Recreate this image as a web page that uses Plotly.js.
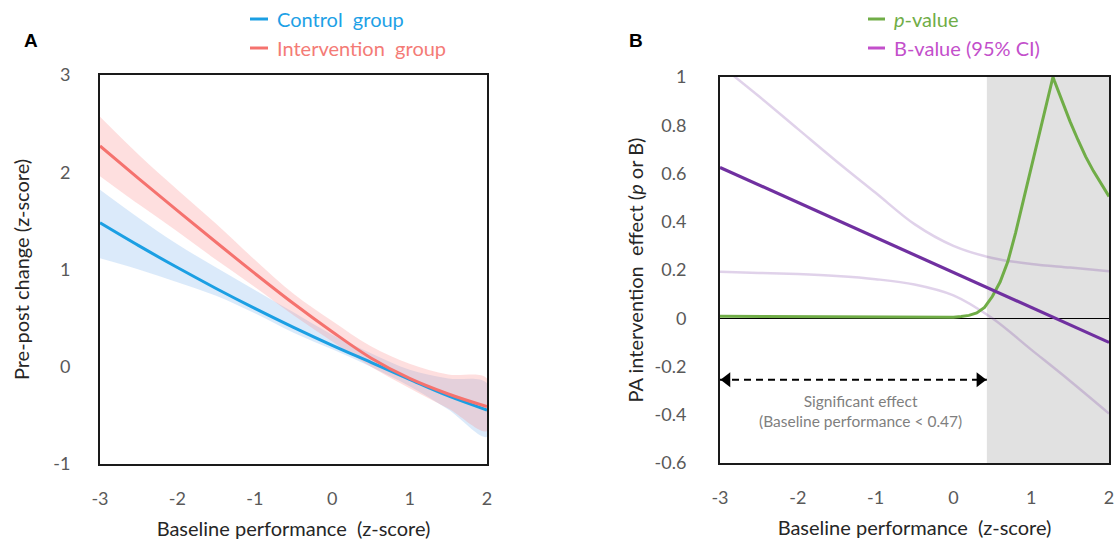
<!DOCTYPE html>
<html>
<head>
<meta charset="utf-8">
<script src="https://cdn.plot.ly/plotly-3.0.1.min.js"></script>
<style>html,body{margin:0;padding:0;background:#fff;}#chart{width:1115px;height:547px;}</style>
</head>
<body>
<div id="chart"></div>
<script>
// ---------- Panel A data ----------
const xGrid = [-3, -2.5, -2, -1.5, -1, -0.5, 0, 0.5, 1, 1.5, 2];
const controlMean  = [1.48, 1.245, 1.02, 0.805, 0.60, 0.405, 0.22, 0.045, -0.13, -0.30, -0.445];
const controlLower = [1.115, 1.00, 0.87, 0.73, 0.55, 0.35, 0.18, 0.00, -0.20, -0.44, -0.72];
const controlUpper = [1.82, 1.53, 1.26, 1.02, 0.79, 0.56, 0.33, 0.14, -0.03, -0.12, -0.17];
const interventionMean  = [2.27, 1.935, 1.605, 1.28, 0.96, 0.65, 0.36, 0.09, -0.12, -0.28, -0.41];
const interventionLower = [1.96, 1.67, 1.39, 1.10, 0.82, 0.53, 0.26, 0.00, -0.22, -0.43, -0.66];
const interventionUpper = [2.57, 2.18, 1.82, 1.47, 1.10, 0.75, 0.47, 0.21, 0.03, -0.08, -0.12];

// ---------- Panel B data ----------
const bX = [-3, -2, -1, 0, 1, 2];
const bValue = [0.625, 0.48, 0.335, 0.19, 0.045, -0.10];
const ciX = [-3, -2.5, -2, -1.5, -1, -0.5, 0, 0.5, 1, 1.5, 2];
const ciUpper = [1.05, 0.92, 0.785, 0.65, 0.52, 0.39, 0.30, 0.25, 0.225, 0.21, 0.195];
const ciLower = [0.193, 0.188, 0.183, 0.175, 0.162, 0.14, 0.095, 0.0, -0.13, -0.26, -0.395];
const pX   = [-3, -2, -1, -0.5, 0, 0.1, 0.2, 0.3, 0.4, 0.5, 0.6, 0.7, 0.8, 0.9, 1.0, 1.1, 1.2, 1.28, 1.3, 1.4, 1.5, 1.6, 1.7, 1.8, 1.9, 2.0];
const pVal = [0.008, 0.006, 0.004, 0.003, 0.004, 0.007, 0.012, 0.022, 0.045, 0.09, 0.15, 0.235, 0.355, 0.49, 0.625, 0.76, 0.89, 1.0, 0.982, 0.895, 0.815, 0.74, 0.67, 0.61, 0.555, 0.505];
const sigThreshold = 0.43;      // start of non-significant (shaded) region
const arrowY = -0.255;
const sigLabel = 'Significant effect<br>(Baseline performance &lt; 0.47)';

// ---------- ticks ----------
const xTickVals = [-3, -2, -1, 0, 1, 2];
const xTickText = ['-3', '-2', '-1', '0', '1', '2'];
const yATickVals = [-1, 0, 1, 2, 3];
const yATickText = ['-1', '0', '1', '2', '3'];
const yBTickVals = [-0.6, -0.4, -0.2, 0, 0.2, 0.4, 0.6, 0.8, 1];
const yBTickText = ['-0.6', '-0.4', '-0.2', '0', '0.2', '0.4', '0.6', '0.8', '1'];

// ---------- styles ----------
const W = 1115, H = 547;
const FONT = 'Lato, "Open Sans", sans-serif';
const blue = '#1B9FE3', red = '#F5726E';
const green = '#70AD47', purple = '#7030A0';
const tickColor = '#595959', titleColor = '#262626';

function band(x, lo, hi) {
  return { x: x.concat(x.slice().reverse()), y: lo.concat(hi.slice().reverse()) };
}
const cb = band(xGrid, controlLower, controlUpper);
const ib = band(xGrid, interventionLower, interventionUpper);

// pixel geometry of the plot areas
const A = {l: 100, r: 487, t: 75, b: 464};
const B = {l: 720, r: 1109, t: 77, b: 463};
const pxPerUnitB = (B.r - B.l) / (xTickVals[xTickVals.length-1] - xTickVals[0]);
const tipOffset = 7 / pxPerUnitB;

const traces = [
  {x: cb.x, y: cb.y, fill: 'toself', fillcolor: 'rgba(110,170,235,0.25)', line: {width: 0, shape: 'spline'}, mode: 'lines', hoverinfo: 'skip', showlegend: false, xaxis: 'x', yaxis: 'y'},
  {x: ib.x, y: ib.y, fill: 'toself', fillcolor: 'rgba(250,140,140,0.28)', line: {width: 0, shape: 'spline'}, mode: 'lines', hoverinfo: 'skip', showlegend: false, xaxis: 'x', yaxis: 'y'},
  {x: xGrid, y: controlMean, mode: 'lines', name: 'Control group', line: {color: blue, width: 3, shape: 'spline'}, showlegend: false, xaxis: 'x', yaxis: 'y'},
  {x: xGrid, y: interventionMean, mode: 'lines', name: 'Intervention group', line: {color: red, width: 3, shape: 'spline'}, showlegend: false, xaxis: 'x', yaxis: 'y'},

  {x: ciX, y: ciUpper, mode: 'lines', name: 'B upper 95% CI', line: {color: 'rgba(112,48,160,0.22)', width: 2.5, shape: 'spline'}, showlegend: false, xaxis: 'x2', yaxis: 'y2'},
  {x: ciX, y: ciLower, mode: 'lines', name: 'B lower 95% CI', line: {color: 'rgba(112,48,160,0.22)', width: 2.5, shape: 'spline'}, showlegend: false, xaxis: 'x2', yaxis: 'y2'},
  {x: pX, y: pVal, mode: 'lines', name: 'p-value', line: {color: green, width: 3}, showlegend: false, xaxis: 'x2', yaxis: 'y2'},
  {x: bX, y: bValue, mode: 'lines', name: 'B-value', line: {color: purple, width: 3.2}, showlegend: false, xaxis: 'x2', yaxis: 'y2'},
  {x: [xTickVals[0], sigThreshold], y: [arrowY, arrowY], mode: 'lines', line: {color: '#000', width: 2, dash: '7px,5px'}, hoverinfo: 'skip', showlegend: false, xaxis: 'x2', yaxis: 'y2'},
  {x: [xTickVals[0] + tipOffset, sigThreshold - tipOffset], y: [arrowY, arrowY], mode: 'markers', marker: {symbol: ['triangle-left', 'triangle-right'], size: 13, color: '#000'}, hoverinfo: 'skip', showlegend: false, cliponaxis: false, xaxis: 'x2', yaxis: 'y2'}
];

function axisBase(extra) {
  return Object.assign({
    showgrid: false, zeroline: false, showline: true, mirror: true,
    linecolor: '#1a1a1a', linewidth: 2, ticks: '',
    tickfont: {family: FONT, size: 18, color: tickColor},
    automargin: false, fixedrange: true
  }, extra);
}
const titleFont = {family: FONT, size: 20, color: titleColor};

const layout = {
  width: W, height: H,
  margin: {l: 0, r: 0, t: 0, b: 0},
  paper_bgcolor: '#fff', plot_bgcolor: 'rgba(0,0,0,0)',
  showlegend: false,
  xaxis: axisBase({domain: [A.l / W, A.r / W], range: [-3, 2], tickvals: xTickVals, ticktext: xTickText, ticklabelstandoff: 17,
    title: {text: 'Baseline performance  (z-score)', font: titleFont, standoff: 14}, anchor: 'y'}),
  yaxis: axisBase({domain: [1 - A.b / H, 1 - A.t / H], range: [-1, 3], tickvals: yATickVals, ticktext: yATickText, ticklabelstandoff: 24,
    title: {text: 'Pre-post change (z-score)', font: titleFont, standoff: 18}, anchor: 'x'}),
  xaxis2: axisBase({domain: [B.l / W, B.r / W], range: [-3, 2], tickvals: xTickVals, ticktext: xTickText, ticklabelstandoff: 17,
    title: {text: 'Baseline performance  (z-score)', font: titleFont, standoff: 14}, anchor: 'y2'}),
  yaxis2: axisBase({domain: [1 - B.b / H, 1 - B.t / H], range: [-0.6, 1], tickvals: yBTickVals, ticktext: yBTickText, ticklabelstandoff: 28,
    zeroline: true, zerolinecolor: '#000', zerolinewidth: 1.5,
    title: {text: 'PA intervention  effect (<i>p</i> or B)', font: titleFont, standoff: 6}, anchor: 'x2'}),
  shapes: [
    {type: 'rect', xref: 'x2', yref: 'y2', x0: sigThreshold, x1: 2, y0: -0.6, y1: 1, fillcolor: '#e1e1e1', line: {width: 0}, layer: 'below'},
    // legend line samples
    {type: 'line', xref: 'paper', yref: 'paper', x0: 250 / W, x1: 268 / W, y0: 1 - 19 / H, y1: 1 - 19 / H, line: {color: blue, width: 3}},
    {type: 'line', xref: 'paper', yref: 'paper', x0: 250 / W, x1: 268 / W, y0: 1 - 48 / H, y1: 1 - 48 / H, line: {color: red, width: 3}},
    {type: 'line', xref: 'paper', yref: 'paper', x0: 868 / W, x1: 885 / W, y0: 1 - 19 / H, y1: 1 - 19 / H, line: {color: green, width: 3}},
    {type: 'line', xref: 'paper', yref: 'paper', x0: 868 / W, x1: 885 / W, y0: 1 - 48 / H, y1: 1 - 48 / H, line: {color: '#C34FCB', width: 3}}
  ],
  annotations: [
    {xref: 'paper', yref: 'paper', x: 22 / W, y: 1 - 28 / H, text: '<b>A</b>', showarrow: false, font: {family: 'Liberation Sans, Arial, sans-serif', size: 19, color: '#000'}},
    {xref: 'paper', yref: 'paper', x: 636 / W, y: 1 - 28 / H, text: '<b>B</b>', showarrow: false, font: {family: 'Liberation Sans, Arial, sans-serif', size: 19, color: '#000'}},
    {xref: 'paper', yref: 'paper', x: 275 / W, y: 1 - 19 / H, xanchor: 'left', yanchor: 'middle', text: 'Control  group', showarrow: false, font: {family: FONT, size: 20, color: '#1DA1E6'}},
    {xref: 'paper', yref: 'paper', x: 275 / W, y: 1 - 48 / H, xanchor: 'left', yanchor: 'middle', text: 'Intervention  group', showarrow: false, font: {family: FONT, size: 20, color: '#F47B76'}},
    {xref: 'paper', yref: 'paper', x: 892 / W, y: 1 - 19 / H, xanchor: 'left', yanchor: 'middle', text: '<i>p</i>-value', showarrow: false, font: {family: FONT, size: 20, color: green}},
    {xref: 'paper', yref: 'paper', x: 892 / W, y: 1 - 48 / H, xanchor: 'left', yanchor: 'middle', text: 'B-value (95% CI)', showarrow: false, font: {family: FONT, size: 20, color: '#C34FCB'}},
    {xref: 'x2', yref: 'y2', x: -1.19, y: -0.386, text: sigLabel, showarrow: false, align: 'center', font: {family: FONT, size: 15.5, color: '#7f7f7f'}}
  ]
};

Plotly.newPlot('chart', traces, layout, {displayModeBar: false, staticPlot: true});
</script>
</body>
</html>
